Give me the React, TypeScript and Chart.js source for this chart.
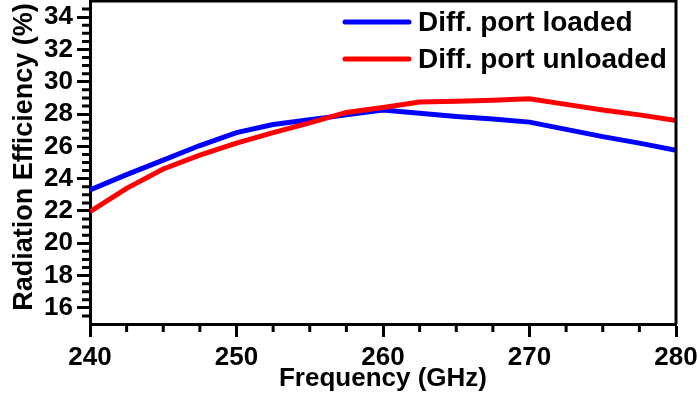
import React, { useEffect, useRef } from "react";
import { Chart, registerables } from "chart.js";

Chart.register(...registerables);

const freqs = [240, 242.5, 245, 247.5, 250, 252.5, 255, 257.5, 260, 262.5, 265, 267.5, 270, 272.5, 275, 277.5, 280];
const loaded = [23.3, 24.25, 25.15, 26.05, 26.85, 27.35, 27.65, 27.95, 28.25, 28.05, 27.85, 27.7, 27.5, 27.05, 26.6, 26.2, 25.75];
const unloaded = [21.95, 23.4, 24.6, 25.45, 26.2, 26.85, 27.45, 28.1, 28.4, 28.75, 28.8, 28.85, 28.95, 28.6, 28.25, 27.95, 27.6];
const seriesNames = ["Diff. port loaded", "Diff. port unloaded"];
const yMajorTicks = [16, 18, 20, 22, 24, 26, 28, 30, 32, 34];
const xMinorTicks = [242.5, 245, 247.5, 252.5, 255, 257.5, 262.5, 265, 267.5, 272.5, 275, 277.5];
const yMinorTicks = [15.5, 16.5, 17, 17.5, 18.5, 19, 19.5, 20.5, 21, 21.5, 22.5, 23, 23.5, 24.5, 25, 25.5, 26.5, 27, 27.5, 28.5, 29, 29.5, 30.5, 31, 31.5, 32.5, 33, 33.5, 34.5];
const xTitle = "Frequency (GHz)";
const yTitle = "Radiation Efficiency (%)";

const FONT = "'Liberation Sans', Arial, sans-serif";

const decorPlugin = {
  id: "decor",
  afterDraw(chart: any) {
    const ctx = chart.ctx;
    const a = chart.chartArea;
    const xs = chart.scales.x;
    const ys = chart.scales.y;
    ctx.save();
    ctx.strokeStyle = "#000";
    ctx.lineWidth = 3;
    // frame top & right
    ctx.beginPath();
    ctx.moveTo(a.left, a.top);
    ctx.lineTo(a.right, a.top);
    ctx.lineTo(a.right, a.bottom);
    ctx.stroke();
    // minor ticks
    ctx.lineWidth = 3;
    ctx.beginPath();
    for (const v of yMinorTicks) {
      const y = ys.getPixelForValue(v);
      ctx.moveTo(a.left - 8, y);
      ctx.lineTo(a.left, y);
    }
    for (const v of xMinorTicks) {
      const x = xs.getPixelForValue(v);
      ctx.moveTo(x, a.bottom);
      ctx.lineTo(x, a.bottom + 8);
    }
    ctx.stroke();
    // titles
    ctx.fillStyle = "#000";
    ctx.font = `bold 26px ${FONT}`;
    ctx.textAlign = "center";
    ctx.textBaseline = "middle";
    ctx.fillText(xTitle, (a.left + a.right) / 2, 379);
    ctx.save();
    ctx.translate(25, 157);
    ctx.rotate(-Math.PI / 2);
    ctx.font = `bold 27px ${FONT}`;
    ctx.fillText(yTitle, 0, 0);
    ctx.restore();
    // legend
    const colors = ["#0000ff", "#ff0000"];
    const ly = [22, 59];
    ctx.font = `bold 28px ${FONT}`;
    ctx.textAlign = "left";
    ctx.textBaseline = "middle";
    ctx.lineCap = "round";
    for (let i = 0; i < 2; i++) {
      ctx.strokeStyle = colors[i];
      ctx.lineWidth = 5;
      ctx.beginPath();
      ctx.moveTo(345, ly[i]);
      ctx.lineTo(409, ly[i]);
      ctx.stroke();
      ctx.fillText(seriesNames[i], 418, ly[i] + 1);
    }
    ctx.restore();
  },
};

export default function App() {
  const ref = useRef<HTMLCanvasElement>(null);
  useEffect(() => {
    document.body.style.margin = "0";
    const canvas = ref.current!;
    const chart = new Chart(canvas, {
      type: "line",
      data: {
        datasets: [
          {
            label: seriesNames[0],
            data: freqs.map((f, i) => ({ x: f, y: loaded[i] })),
            borderColor: "#0000ff",
            backgroundColor: "#0000ff",
            borderWidth: 5,
            pointRadius: 0,
            tension: 0,
            order: 1,
          },
          {
            label: seriesNames[1],
            data: freqs.map((f, i) => ({ x: f, y: unloaded[i] })),
            borderColor: "#ff0000",
            backgroundColor: "#ff0000",
            borderWidth: 5,
            pointRadius: 0,
            tension: 0,
            order: 0,
          },
        ],
      },
      options: {
        animation: false,
        responsive: false,
        maintainAspectRatio: false,
        layout: { padding: { top: 1, right: 22, left: 0, bottom: 0 } },
        plugins: { legend: { display: false }, tooltip: { enabled: false } },
        scales: {
          x: {
            type: "linear",
            min: 240,
            max: 280,
            ticks: {
              stepSize: 10,
              color: "#000",
              font: { family: FONT, size: 26, weight: "bold" },
              padding: 5,
              maxRotation: 0,
            },
            grid: { drawOnChartArea: false, tickLength: 13, tickWidth: 3, tickColor: "#000" },
            border: { display: true, color: "#000", width: 3 },
            afterFit: (s: any) => {
              s.height = 80;
              s.paddingLeft = 0;
              s.paddingRight = 0;
            },
          },
          y: {
            type: "linear",
            min: 15,
            max: 35,
            afterBuildTicks: (s: any) => {
              s.ticks = yMajorTicks.map((v) => ({ value: v }));
            },
            ticks: {
              color: "#000",
              font: { family: FONT, size: 26, weight: "bold" },
              padding: 4,
            },
            grid: { drawOnChartArea: false, tickLength: 13, tickWidth: 3, tickColor: "#000" },
            border: { display: true, color: "#000", width: 3 },
            afterFit: (s: any) => {
              s.width = 90;
              s.paddingTop = 0;
              s.paddingBottom = 0;
            },
          },
        },
      },
      plugins: [decorPlugin],
    });
    return () => chart.destroy();
  }, []);
  return <canvas ref={ref} width={698} height={404} style={{ display: "block" }} />;
}
